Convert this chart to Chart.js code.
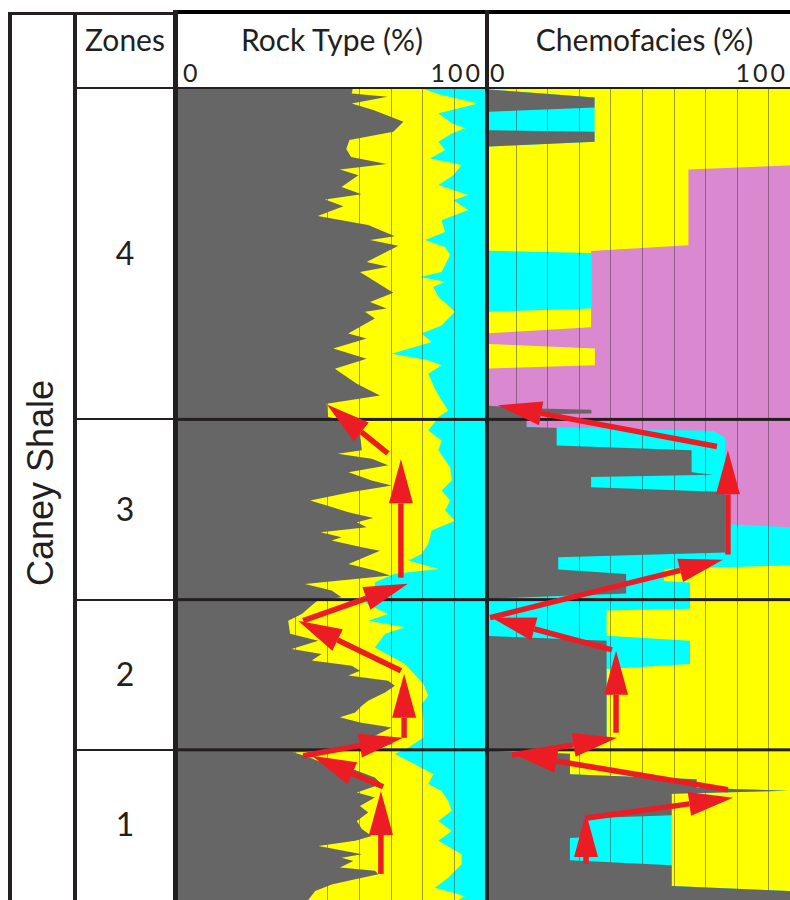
<!DOCTYPE html>
<html>
<head>
<meta charset="utf-8">
<script src="https://cdn.jsdelivr.net/npm/chart.js@4.4.1/dist/chart.umd.min.js"></script>
<style>
  html, body { margin: 0; padding: 0; background: #fff; }
  body { width: 790px; height: 900px; overflow: hidden; position: relative; font-family: Lato, sans-serif; color: #231f20; }
  .ln { position: absolute; background: #231f20; }
  .txt { position: absolute; white-space: nowrap; line-height: 1; }
  .track { position: absolute; top: 89px; height: 811px; }
</style>
</head>
<body>
<!-- frame lines -->
<div class="ln" style="left:8px;top:12px;width:170px;height:3px"></div>
<div class="ln" style="left:178px;top:10px;width:612px;height:4px;background:#000"></div>
<div class="ln" style="left:8px;top:12px;width:4px;height:888px"></div>
<div class="ln" style="left:73px;top:12px;width:4px;height:888px"></div>

<!-- headers -->
<div class="txt" style="left:77px;width:96px;top:24px;font-size:30px;text-align:center">Zones</div>
<div class="txt" style="left:178px;width:308px;top:24px;font-size:30px;text-align:center">Rock Type (%)</div>
<div class="txt" style="left:489px;width:311px;top:24px;font-size:30px;text-align:center">Chemofacies (%)</div>
<div class="txt" style="left:183px;top:60px;font-size:25px">0</div>
<div class="txt" style="left:383px;width:100px;top:60px;font-size:25px;text-align:right;letter-spacing:3px;margin-right:-3px">100</div>
<div class="txt" style="left:490px;top:60px;font-size:25px">0</div>
<div class="txt" style="left:688px;width:100px;top:60px;font-size:25px;text-align:right;letter-spacing:3px">100</div>

<div class="txt" style="left:-109px;top:465px;width:300px;height:36px;line-height:36px;font-family:'Liberation Sans',Arial,sans-serif;font-size:36px;text-align:center;transform:rotate(-90deg)">Caney Shale</div>

<div id="zones"></div>

<div class="track" style="left:178px;width:308px"><canvas id="rockChart"></canvas></div>
<div class="track" style="left:489px;width:311px"><canvas id="chemoChart"></canvas></div>

<div class="ln" style="left:173px;top:10px;width:5px;height:890px"></div>
<div class="ln" style="left:485px;top:10px;width:4px;height:890px"></div>
<div class="ln" style="left:77px;top:87px;width:713px;height:2px"></div>

<script>
// depth below the top of zone 4 (ft), zones top to bottom
const depthRange = [0, 270];
const zoneNames = ['4', '3', '2', '1'];
const zoneEdges = [0, 110, 170, 220, 270];
const gridPct = [10, 20, 30, 40, 50, 60, 70, 80, 90];

// Rock type: right edge of each layer, [depth, cumulative %]
const rockGray = [
  [0, 58], [1.5, 57.7], [2.6, 69], [4.8, 57.7], [7, 64.5], [10.9, 74], [14.2, 70.8], [17, 57], [20, 56],
  [22.6, 57.5], [25, 68.7], [26.8, 54], [28.7, 59.8], [32.6, 54.5], [35, 60.8], [36.8, 49.3], [39, 55.1],
  [42.3, 47], [45.3, 62.9], [49, 71.3], [50.3, 63.5], [52.2, 72.4], [57.6, 62.4], [59.2, 69.2], [60.9, 60.3],
  [67.8, 70.8], [70.9, 63.5], [73.1, 68.7], [74.2, 61.9], [76.4, 65], [81.4, 56.6], [83.1, 62.4], [86.4, 51.9],
  [89.8, 62.4], [93.1, 52.4], [98.1, 59.3], [102, 66.6], [104.8, 49.8],
  [109.2, 50.3], [111, 58], [114.8, 60.3], [120.3, 60.9], [121.4, 53.3], [123.1, 64], [125.3, 69.2],
  [127.6, 56.7], [130.3, 64], [132, 70.3], [134.2, 57.7], [137, 44.6], [139.2, 51.4], [140.9, 56.7],
  [142.8, 64.5], [144.2, 59.3], [145.9, 62.4], [147.6, 47.9], [149.2, 54.5], [150.3, 51.4], [152.6, 60.9],
  [153.7, 66.6], [158.1, 56.7], [160.3, 65], [162, 69.8], [164.8, 43], [167, 51.4], [169.2, 54.5],
  [170.3, 47], [172, 45], [174.8, 42], [177, 37.7], [181.4, 38.3], [183.7, 47.2], [186.4, 38.8], [188.1, 48.2],
  [190.3, 45.1], [192, 57.7], [193.7, 60.3], [195.3, 56.7], [197, 69.2], [198.7, 71.3], [200.9, 68.2],
  [203.7, 62.9], [205.3, 60.9], [207.6, 58.8], [209.2, 54], [210.9, 60.3], [212.6, 70.3], [215.3, 65],
  [218.1, 70.8], [219.8, 62],
  [220.9, 39.3], [222, 43], [223.7, 47.2], [225.9, 56.7], [229.2, 65], [231.4, 67.1], [234.2, 59.3],
  [235.9, 65], [238.7, 60.3], [240.9, 62.9], [243.7, 59.3], [246.4, 60.9], [248.7, 64], [250.3, 58.8],
  [252, 47.2], [253.7, 55.6], [254.8, 60.9], [255.9, 54.5], [257, 58.2], [259.2, 54], [260.3, 65],
  [261.4, 66.1], [263.1, 58.8], [264.8, 51.4], [267, 46.2], [269.2, 44.6], [270, 44]
];
const rockYellow = [
  [0, 80.3], [2, 86], [4.8, 97.6], [8.1, 85], [11.4, 89.2], [13.1, 93.4], [14.8, 89.2], [17.6, 85],
  [20.3, 87.1], [23.1, 82.4], [25.3, 92.3], [28.7, 89.7], [32, 85], [35.3, 94.4], [37, 89.7], [40.3, 94.4],
  [43.7, 86], [47.6, 87.1], [50.3, 80.8], [52.6, 87.1], [55.3, 88.7], [60.9, 86], [62.6, 79.2], [64.2, 87.1],
  [65.9, 83.4], [69.2, 85], [74.2, 90.2], [78.7, 86], [81.4, 79.7], [84.2, 82.9], [88.1, 70.3], [90.3, 81.8],
  [92, 86], [94.8, 81.8], [99.8, 83.9], [103.7, 86], [107, 88.1], [109.2, 85],
  [110.9, 83.9], [113.7, 81.8], [117, 86], [120.3, 85], [125.9, 88.7], [130.3, 89.2], [133.7, 86],
  [137, 88.7], [140.3, 87.1], [143.7, 90.2], [147, 82.9], [151.4, 81.8], [154.8, 79.7], [157, 75.6],
  [159.8, 85], [161.4, 71.3], [164.2, 65], [167, 65], [169.2, 60.9],
  [171.4, 62.4], [174.8, 69.2], [177, 63], [179.2, 74.5], [181.4, 68.2], [185.9, 65], [191.4, 74.5],
  [198.1, 80.3], [202, 81.8], [204.8, 79.7], [210.3, 80.3], [215.9, 80.3], [219.2, 75.6],
  [221.4, 71.3], [224.8, 77.6], [228.1, 83.4], [231.4, 81.8], [233.7, 86], [237, 88.1], [240.3, 89.2],
  [243.7, 85], [247, 89.2], [250.3, 85], [254.8, 92.3], [258.1, 92.3], [262.6, 88.1], [265.9, 83.9],
  [268.7, 93.4], [270, 91.3]
];
const rockCyan = [[0, 100], [270, 100]];

// Chemofacies: right edge of each layer, [depth, cumulative %]
const chemoGray = [
  [0, 0], [2.8, 35], [6.2, 35], [7.6, 0], [13.7, 0], [14.2, 35], [17.6, 35], [19.2, 0], [105.3, 0],
  [106.3, 13.5], [106.8, 34], [108, 34], [108.4, 13.5], [112.5, 13.5], [112.8, 23], [118.7, 23],
  [120.3, 65.7], [127.6, 65.7], [128.4, 72.6], [129.2, 33.9], [132.6, 33.9], [134.2, 76.3], [154.3, 76.3],
  [155.9, 23.5], [160, 23.5], [161.5, 45], [168, 45], [169.5, 5], [170.5, 0], [182, 0], [183.7, 38.8],
  [217.6, 38.8], [219.3, 20], [220.3, 1], [221.3, 27.2], [228.1, 27.2], [229.8, 67.3], [232.6, 67.3],
  [233.6, 96], [234.6, 59.4], [241.8, 59.4], [242.8, 32.5], [249, 32.5], [249.4, 27.2], [256.8, 27.2],
  [258.4, 59.4], [265.3, 59.4], [267.2, 100], [270, 100]
];
const chemoCyan = [
  [0, 0], [2.8, 35], [17.6, 35], [19.2, 0], [53.8, 0], [54.6, 33.9], [73.1, 33.9], [74.2, 0], [112.3, 0],
  [112.4, 14], [113.9, 72.6], [116, 76.3], [144.8, 76.3], [146.1, 100], [158.5, 100], [159.8, 57],
  [163.8, 57], [164.3, 65.2], [173, 65.2], [173.6, 38.8], [182, 38.8], [183.7, 65.2], [191.4, 65.2],
  [193.1, 38.8], [217.6, 38.8], [219.3, 20], [220.3, 1], [221.3, 27.2], [228.1, 27.2], [229.8, 67.3],
  [232.6, 67.3], [233.6, 96], [234.6, 59.4], [265.3, 59.4], [267.2, 100], [270, 100]
];
const chemoYellow = [
  [0, 100], [25.3, 100], [26.8, 64.7], [52, 64.7], [53.9, 33.9], [79.3, 33.9], [81.4, 0], [84.8, 0],
  [86.4, 35.1], [92, 35.1], [93.1, 0], [157.5, 0], [158.2, 100], [270, 100]
];
const chemoPink = [[0, 100], [270, 100]];

// trend arrows: [from %, from depth, to %, to depth]
const rockArrows = [
  [69.1, 121.3, 49.9, 105], [73.2, 162.7, 73.2, 123.3], [42.4, 177, 75.4, 164.7], [73.2, 193.7, 40.8, 177],
  [74.2, 216, 74.2, 194.7], [42.4, 222, 73.9, 216], [67.6, 232.3, 45.2, 222], [66.9, 261.3, 66.9, 233.7]
];
const chemoArrows = [
  [73.7, 119, 4.4, 105.3], [77.2, 155, 77.2, 120.3], [1.9, 176, 75.6, 156.7], [40.5, 186.7, 2.5, 176],
  [41.8, 214.3, 41.8, 187], [8.9, 221.7, 42.1, 216], [77.2, 233.3, 9.2, 221.3], [32.6, 242.7, 78.8, 236],
  [32.3, 258, 32.3, 241]
];

const pts = arr => arr.map(([d, v]) => ({ x: v, y: d }));

function layer(label, arr, color) {
  return {
    label: label,
    data: pts(arr),
    backgroundColor: color,
    borderColor: 'rgba(0,0,0,0)',
    borderWidth: 0,
    pointRadius: 0,
    tension: 0,
    fill: { value: 0 }
  };
}

// grid under the gray layer, zone lines and arrows on top
function overlay(arrows) {
  return {
    id: 'overlay',
    afterDatasetDraw(chart, args) {
      if (args.index !== 1) return;
      const { ctx, chartArea, scales: { x } } = chart;
      ctx.save();
      ctx.strokeStyle = 'rgba(60,60,60,0.5)';
      ctx.lineWidth = 1;
      gridPct.forEach(v => {
        const px = Math.round(x.getPixelForValue(v)) + 0.5;
        ctx.beginPath();
        ctx.moveTo(px, chartArea.top);
        ctx.lineTo(px, chartArea.bottom);
        ctx.stroke();
      });
      ctx.restore();
    },
    afterDatasetsDraw(chart) {
      const { ctx, chartArea, scales: { x, y } } = chart;
      ctx.save();
      ctx.fillStyle = '#231f20';
      zoneEdges.slice(1, -1).forEach(d => {
        const py = y.getPixelForValue(d);
        ctx.fillRect(chartArea.left, py - 1.5, chartArea.right - chartArea.left, 3);
      });
      ctx.fillStyle = ctx.strokeStyle = '#ec1c24';
      ctx.lineWidth = 5.5;
      arrows.forEach(([v0, d0, v1, d1]) => {
        const ax = x.getPixelForValue(v0), ay = y.getPixelForValue(d0);
        const bx = x.getPixelForValue(v1), by = y.getPixelForValue(d1);
        const a = Math.atan2(by - ay, bx - ax);
        const c = Math.cos(a), s = Math.sin(a);
        const hl = 44, hw = 12;
        const cx = bx - hl * c, cy = by - hl * s;
        ctx.beginPath();
        ctx.moveTo(ax, ay);
        ctx.lineTo(cx, cy);
        ctx.stroke();
        ctx.beginPath();
        ctx.moveTo(bx, by);
        ctx.lineTo(cx - hw * s, cy + hw * c);
        ctx.lineTo(cx + hw * s, cy - hw * c);
        ctx.closePath();
        ctx.fill();
      });
      ctx.restore();
    }
  };
}

function makeTrack(id, datasets, xMin, arrows) {
  return new Chart(document.getElementById(id), {
    type: 'line',
    data: { datasets: datasets },
    options: {
      indexAxis: 'y',
      responsive: true,
      maintainAspectRatio: false,
      animation: false,
      layout: { padding: 0 },
      plugins: { legend: { display: false }, tooltip: { enabled: false } },
      scales: {
        x: { type: 'linear', min: xMin, max: 100, display: false },
        y: { type: 'linear', min: depthRange[0], max: depthRange[1], reverse: true, display: false }
      }
    },
    plugins: [overlay(arrows)]
  });
}

const rockChart = makeTrack('rockChart', [
  layer('Gray', rockGray, '#666666'),
  layer('Yellow', rockYellow, '#ffff00'),
  layer('Cyan', rockCyan, '#00ffff')
], 3, rockArrows);

const chemoChart = makeTrack('chemoChart', [
  layer('Gray', chemoGray, '#666666'),
  layer('Cyan', chemoCyan, '#00ffff'),
  layer('Yellow', chemoYellow, '#ffff00'),
  layer('Pink', chemoPink, '#da88cf')
], 1.6, chemoArrows);

// zone column: separators and labels placed with the depth scale
const yScale = rockChart.scales.y;
const top0 = 89;
const zonesDiv = document.getElementById('zones');
zoneNames.forEach((name, i) => {
  const mid = top0 + yScale.getPixelForValue((zoneEdges[i] + zoneEdges[i + 1]) / 2);
  const lab = document.createElement('div');
  lab.className = 'txt';
  lab.style.cssText = 'left:77px;width:96px;text-align:center;font-size:32px;top:' + (mid - 17) + 'px';
  lab.textContent = name;
  zonesDiv.appendChild(lab);
  if (i > 0) {
    const ln = document.createElement('div');
    ln.className = 'ln';
    ln.style.cssText = 'left:77px;width:96px;height:2px;top:' + (top0 + yScale.getPixelForValue(zoneEdges[i]) - 1) + 'px';
    zonesDiv.appendChild(ln);
  }
});
</script>
</body>
</html>
